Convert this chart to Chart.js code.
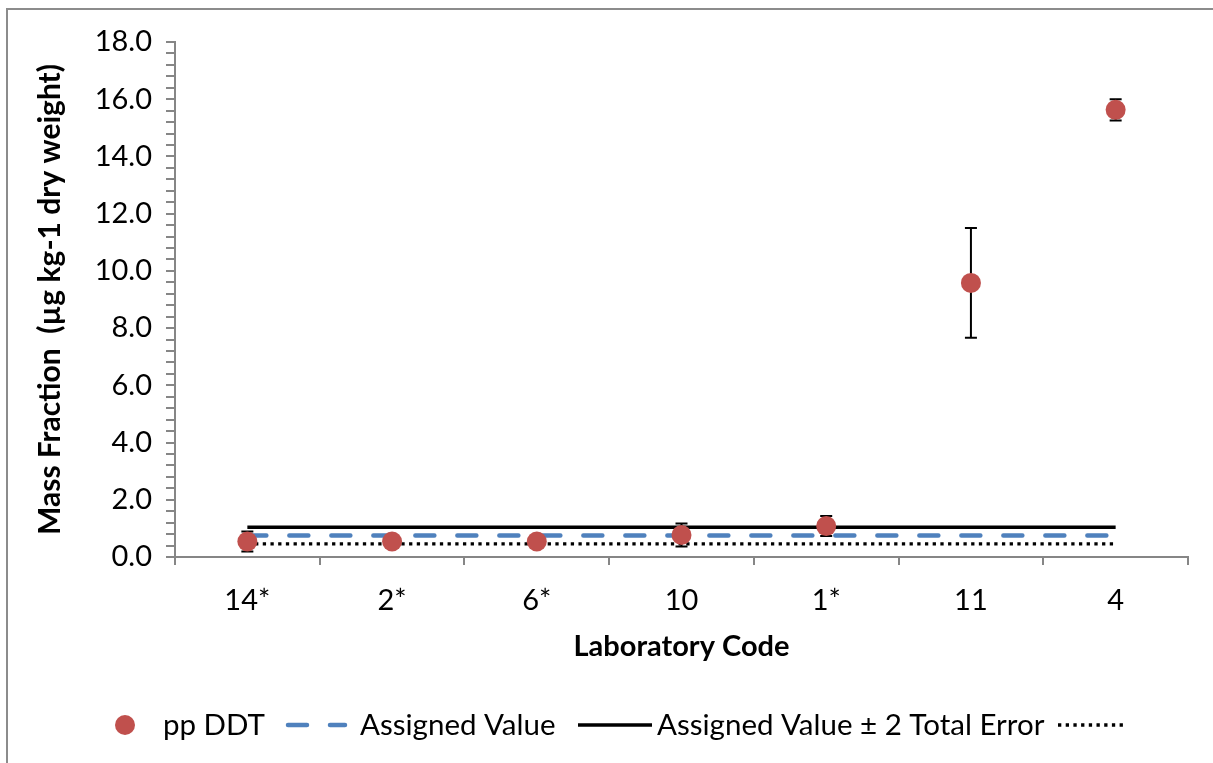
<!DOCTYPE html>
<html>
<head>
<meta charset="utf-8">
<script src="https://cdn.jsdelivr.net/npm/chart.js@4.4.0/dist/chart.umd.min.js"></script>
<style>
  html, body { margin: 0; padding: 0; background: #fff; }
  #wrap { width: 1213px; height: 763px; position: relative; }
</style>
</head>
<body>
<div id="wrap"><canvas id="ddtChart"></canvas></div>
<script>
// values
const labCodes = ['14*', '2*', '6*', '10', '1*', '11', '4'];
const ppDDT = [0.54, 0.54, 0.54, 0.77, 1.08, 9.58, 15.63];
const ppDDTErr = [0.35, 0.2, 0.2, 0.40, 0.35, 1.92, 0.37];
const assignedValue = [0.75, 0.75, 0.75, 0.75, 0.75, 0.75, 0.75];
const upperLimit = [1.04, 1.04, 1.04, 1.04, 1.04, 1.04, 1.04];
const lowerLimit = [0.46, 0.46, 0.46, 0.46, 0.46, 0.46, 0.46];
const yMin = 0, yMax = 18, yMajorStep = 2, yMinorStep = 0.4;

const RED = '#C0504D', BLUE = '#4F81BD', AXIS = '#868686';
Chart.defaults.font.family = 'Lato';
Chart.defaults.color = '#000';

const frame = {
  id: 'frame',
  beforeDraw(chart) {
    const ctx = chart.ctx;
    ctx.save();
    ctx.fillStyle = '#fff';
    ctx.fillRect(0, 0, chart.width, chart.height);
    ctx.strokeStyle = '#8c8c8c';
    ctx.lineWidth = 2;
    ctx.strokeRect(7, 9, chart.width + 10, chart.height + 10);
    ctx.restore();
  }
};

const errorBars = {
  id: 'errorBars',
  beforeDatasetDraw(chart, args) {
    if (args.index !== 0) return;
    const ctx = chart.ctx, y = chart.scales.y;
    const pts = chart.getDatasetMeta(0).data;
    ctx.save();
    ctx.strokeStyle = '#000';
    ctx.lineWidth = 2;
    ppDDT.forEach((v, i) => {
      const px = pts[i].x;
      const top = y.getPixelForValue(v + ppDDTErr[i]);
      const bot = y.getPixelForValue(v - ppDDTErr[i]);
      ctx.beginPath();
      ctx.moveTo(px, top); ctx.lineTo(px, bot);
      ctx.moveTo(px - 6, top); ctx.lineTo(px + 6, top);
      ctx.moveTo(px - 6, bot); ctx.lineTo(px + 6, bot);
      ctx.stroke();
    });
    ctx.restore();
  }
};

// Excel-style legend along the bottom
const bottomLegend = {
  id: 'bottomLegend',
  afterDraw(chart) {
    const ctx = chart.ctx;
    const cy = 725;
    ctx.save();
    ctx.font = '29.5px Lato';
    ctx.fillStyle = '#000';
    ctx.textBaseline = 'middle';

    ctx.beginPath();
    ctx.arc(125, cy, 10, 0, Math.PI * 2);
    ctx.fillStyle = RED;
    ctx.fill();
    ctx.fillStyle = '#000';
    ctx.fillText('pp DDT', 163, cy);

    ctx.strokeStyle = BLUE;
    ctx.lineWidth = 4.5;
    ctx.lineCap = 'round';
    ctx.setLineDash([19, 23]);
    ctx.beginPath(); ctx.moveTo(288, cy); ctx.lineTo(345, cy); ctx.stroke();
    ctx.fillText('Assigned Value', 360, cy);

    ctx.lineCap = 'butt';
    ctx.setLineDash([]);
    ctx.strokeStyle = '#000';
    ctx.lineWidth = 3.5;
    ctx.beginPath(); ctx.moveTo(578, cy); ctx.lineTo(652, cy); ctx.stroke();
    ctx.fillText('Assigned Value \u00b1 2 Total Error', 657, cy);

    ctx.setLineDash([3.3, 4.4]);
    ctx.lineWidth = 3.3;
    ctx.beginPath(); ctx.moveTo(1058, cy); ctx.lineTo(1126, cy); ctx.stroke();
    ctx.restore();
  }
};

new Chart(document.getElementById('ddtChart'), {
  type: 'line',
  data: {
    labels: labCodes,
    datasets: [
      {
        label: 'pp DDT', data: ppDDT, showLine: false,
        pointRadius: 10, pointHoverRadius: 10,
        pointBackgroundColor: RED, pointBorderColor: RED, pointBorderWidth: 0
      },
      {
        label: 'Assigned Value', data: assignedValue, borderColor: BLUE,
        borderWidth: 4.5, borderDash: [19, 23], borderCapStyle: 'round', pointRadius: 0
      },
      {
        label: 'Assigned Value \u00b1 2 Total Error', data: upperLimit, borderColor: '#000',
        borderWidth: 3.5, pointRadius: 0
      },
      {
        label: '', data: lowerLimit, borderColor: '#000',
        borderWidth: 3.3, borderDash: [3.3, 4.4], pointRadius: 0
      }
    ]
  },
  options: {
    responsive: true,
    maintainAspectRatio: false,
    animation: false,
    layout: { padding: { left: 0, right: 25, top: 42, bottom: 99 } },
    plugins: { legend: { display: false }, tooltip: { enabled: false } },
    scales: {
      x: {
        offset: true,
        grid: { offset: true, drawOnChartArea: false, tickLength: 8, color: AXIS, lineWidth: 2 },
        border: { color: AXIS, width: 2 },
        ticks: { font: { size: 29 }, padding: 18, maxRotation: 0 },
        title: { display: true, text: 'Laboratory Code', font: { size: 29, weight: 'bold' }, padding: { top: 0, bottom: 0 } },
        afterFit(s) { s.height = 107; }
      },
      y: {
        min: yMin, max: yMax,
        grid: { drawOnChartArea: false, tickLength: 9, color: AXIS, lineWidth: 2 },
        border: { color: AXIS, width: 2 },
        ticks: {
          stepSize: yMinorStep, autoSkip: false, padding: 14, font: { size: 29 },
          callback(v) {
            const r = v / yMajorStep;
            return Math.abs(r - Math.round(r)) < 1e-6 ? Number(v).toFixed(1) : '';
          }
        },
        title: { display: true, text: 'Mass Fraction  (\u00b5g kg-1 dry weight)', font: { size: 30, weight: 'bold' }, padding: { top: 32, bottom: 0 } },
        afterFit(s) { s.width = 175; }
      }
    }
  },
  plugins: [frame, errorBars, bottomLegend]
});
</script>
</body>
</html>
